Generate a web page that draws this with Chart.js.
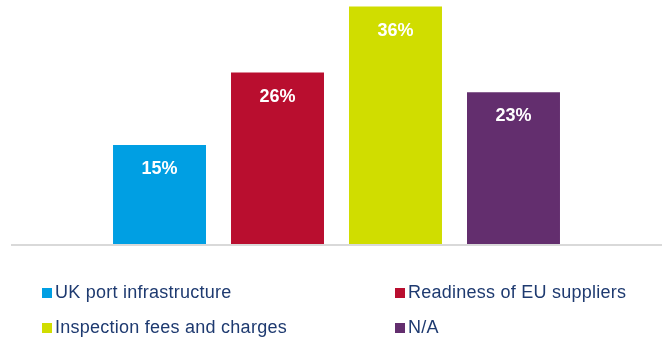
<!DOCTYPE html>
<html>
<head>
<meta charset="utf-8">
<script src="https://cdn.jsdelivr.net/npm/chart.js@4/dist/chart.umd.min.js"></script>
<style>
  html, body { margin: 0; padding: 0; background: #fff; }
  .wrap { position: relative; width: 667px; height: 338px; }
  #chart { position: absolute; left: 0; top: 0; }
  .legend { position: absolute; left: 0; top: 0; width: 667px; height: 338px; pointer-events: none;
    font-family: "Liberation Sans", Arial, sans-serif; font-size: 18px; letter-spacing: 0.25px; color: #1e3a70; }
  .legend .item { position: absolute; white-space: nowrap; line-height: 20px; }
  .legend .box { display: inline-block; width: 10px; height: 10px; margin-right: 3px; vertical-align: 0px; }
</style>
</head>
<body>
<div class="wrap">
  <canvas id="chart" width="667" height="338"></canvas>
  <div class="legend" id="legend"></div>
</div>
<script>
var seriesNames = ['UK port infrastructure', 'Readiness of EU suppliers', 'Inspection fees and charges', 'N/A'];
var seriesValues = [15, 26, 36, 23];
var seriesColors = ['#009fe3', '#b90e2f', '#d0dd00', '#632e6e'];

// one category, one dataset per answer so the bars sit side by side
var datasets = seriesNames.map(function(name, i) {
  return {
    label: name,
    data: [seriesValues[i]],
    backgroundColor: seriesColors[i],
    borderWidth: 0,
    categoryPercentage: 0.725,
    barPercentage: 0.788
  };
});

// grey baseline under the bars
var baseline = {
  id: 'baseline',
  afterDatasetsDraw: function(chart) {
    var ctx = chart.ctx, area = chart.chartArea;
    ctx.save();
    ctx.strokeStyle = '#d9d9d9';
    ctx.lineWidth = 2;
    ctx.beginPath();
    ctx.moveTo(area.left, area.bottom + 1);
    ctx.lineTo(area.right, area.bottom + 1);
    ctx.stroke();
    ctx.restore();
  }
};

// white percentage labels inside the top of each bar
var barLabels = {
  id: 'barLabels',
  afterDatasetsDraw: function(chart) {
    var ctx = chart.ctx;
    ctx.save();
    ctx.fillStyle = '#ffffff';
    ctx.font = 'bold 18px "Liberation Sans", Arial, sans-serif';
    ctx.textAlign = 'center';
    ctx.textBaseline = 'middle';
    chart.data.datasets.forEach(function(ds, i) {
      chart.getDatasetMeta(i).data.forEach(function(bar, j) {
        ctx.fillText(ds.data[j] + '%', bar.x, bar.y + 24);
      });
    });
    ctx.restore();
  }
};

var chart = new Chart(document.getElementById('chart'), {
  type: 'bar',
  data: { labels: [''], datasets: datasets },
  options: {
    responsive: false,
    animation: false,
    layout: { padding: { left: 11, right: 5, top: 0, bottom: 94 } },
    plugins: { legend: { display: false }, tooltip: { enabled: false } },
    scales: {
      x: { display: false },
      y: { display: false, min: 0, max: 37 }
    }
  },
  plugins: [baseline, barLabels]
});

// two-column legend below the plot
var legendPos = [[42, 282], [395, 282], [42, 317], [395, 317]];
var legendEl = document.getElementById('legend');
chart.data.datasets.forEach(function(ds, i) {
  var item = document.createElement('div');
  item.className = 'item';
  item.style.left = legendPos[i][0] + 'px';
  item.style.top = legendPos[i][1] + 'px';
  item.innerHTML = '<span class="box" style="background:' + ds.backgroundColor + '"></span>' + ds.label;
  legendEl.appendChild(item);
});
</script>
</body>
</html>
